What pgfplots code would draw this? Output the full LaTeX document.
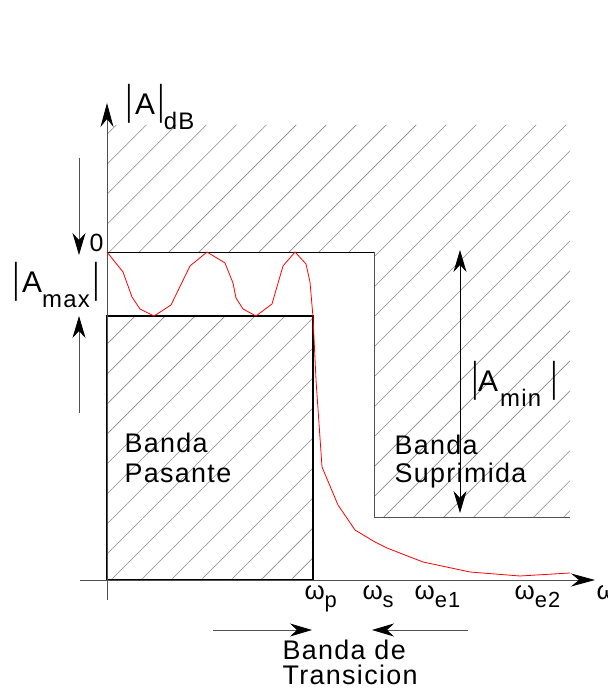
\documentclass[border=0pt]{standalone}
\usepackage{pgfplots}
\pgfplotsset{compat=1.18}
\usepackage{fontspec}
\setmainfont{Liberation Sans}[LetterSpace=5]
\usetikzlibrary{arrows.meta,patterns.meta}

\definecolor{hatch}{HTML}{8A8A8A}
\definecolor{axisgray}{HTML}{505050}
\definecolor{txt}{HTML}{383838}

% thin, tall magnitude bars and lowered subscripts
\newcommand{\vbar}{\scalebox{1}[1.9]{\fontsize{22}{22}\selectfont|}}
\newcommand{\sub}[1]{\raisebox{-15bp}{\fontsize{24}{24}\selectfont #1}}
\newcommand{\wsub}[1]{\raisebox{-8bp}{\fontsize{22}{22}\selectfont #1}}
\tikzset{head/.style={-{Stealth[black,length=22bp,width=13bp,inset=7bp]}}}

\begin{document}
\begin{tikzpicture}
\begin{axis}[
  x=1bp, y=1bp,
  xmin=-107, xmax=501, ymin=-111, ymax=580,
  hide axis, clip=false,
  every node/.style={text=txt, inner sep=0pt, outer sep=0pt},
]
% page frame
\path (axis cs:-107,-111) rectangle (axis cs:501,580);

% hatched stop region above 0 dB and above |Amin|
\addplot[draw=none, pattern={Lines[angle=45,distance=21.2bp,line width=0.6bp]}, pattern color=hatch]
  coordinates {(0,328) (0,455) (463,455) (463,63) (267,63) (267,328) (0,328)};

% hatched passband box
\addplot[draw=black, line width=1.6bp, line join=miter,
  pattern={Lines[angle=45,distance=21.2bp,line width=0.6bp]}, pattern color=hatch]
  coordinates {(0,0) (206,0) (206,264) (0,264) (0,0)};

% template boundary: 0 dB line, stopband edge, |Amin| level
\addplot[black, line width=0.8bp] coordinates {(0,328) (267,328)};
\addplot[axisgray, line width=0.8bp] coordinates {(267,328) (267,63) (463,63)};

% filter attenuation response
\addplot[red, line width=0.8bp] coordinates {
  (0,328) (16,308) (25,283) (33,271) (47,264) (64,275) (83,314) (100,328)
  (118,317) (126,297) (129,282) (136,271) (149,264) (165,276) (176,314)
  (188,328) (199,316) (203,298) (206,263) (209,200) (215,113) (231,75)
  (248,50) (268,38) (280,32) (316,18) (363,8) (413,4) (463,7)
};

% axes
\draw[axisgray, line width=0.8bp, -{Stealth[black,length=24bp,width=13bp,inset=8bp]}]
  (axis cs:0,-20) -- (axis cs:0,477);
\draw[axisgray, line width=0.8bp, -{Stealth[black,length=24bp,width=13bp,inset=8bp]}]
  (axis cs:-27,0) -- (axis cs:488,0);

% dimension arrows
\draw[axisgray, line width=0.8bp, head] (axis cs:-28,422) -- (axis cs:-28,325);
\draw[axisgray, line width=0.8bp, head] (axis cs:-28,167) -- (axis cs:-28,264);
\draw[black, line width=0.8bp, {Stealth[black,length=22bp,width=13bp,inset=7bp]}-{Stealth[black,length=22bp,width=13bp,inset=7bp]}]
  (axis cs:353,330) -- (axis cs:353,67);
\draw[axisgray, line width=0.8bp, head] (axis cs:106,-50) -- (axis cs:205,-50);
\draw[axisgray, line width=0.8bp, head] (axis cs:361,-50) -- (axis cs:265,-50);

% labels
\node[anchor=base west] at (axis cs:16,465) {\vbar\hspace{3bp}{\fontsize{30}{30}\selectfont A}\hspace{3bp}\vbar\sub{dB}};
\node[anchor=base west] at (axis cs:-21,328) {\fontsize{25}{25}\selectfont 0};
\node[anchor=base west] at (axis cs:-97,287) {\vbar\hspace{3bp}{\fontsize{30}{30}\selectfont A}\sub{max}\hspace{4bp}\vbar};
\node[anchor=base west] at (axis cs:362,188) {\vbar{\fontsize{30}{30}\selectfont A}\hspace{2bp}\sub{min}\hspace{10bp}\vbar};

\node[anchor=base west, font=\fontsize{27}{30}\selectfont] at (axis cs:14,127) {Banda};
\node[anchor=base west, font=\fontsize{27}{30}\selectfont] at (axis cs:14,97) {Pasante};
\node[anchor=base west, font=\fontsize{27}{30}\selectfont] at (axis cs:284,125) {Banda};
\node[anchor=base west, font=\fontsize{27}{30}\selectfont] at (axis cs:284,97) {Suprimida};
\node[anchor=base west, font=\fontsize{27}{30}\selectfont] at (axis cs:172,-80) {Banda de};
\node[anchor=base west, font=\fontsize{27}{30}\selectfont] at (axis cs:172,-105) {Transicion};

\node[anchor=base west, font=\fontsize{26}{26}\selectfont] at (axis cs:194,-20) {ω\wsub{p}};
\node[anchor=base west, font=\fontsize{26}{26}\selectfont] at (axis cs:252,-20) {ω\wsub{s}};
\node[anchor=base west, font=\fontsize{26}{26}\selectfont] at (axis cs:304,-20) {ω\wsub{e1}};
\node[anchor=base west, font=\fontsize{26}{26}\selectfont] at (axis cs:404,-20) {ω\wsub{e2}};
\node[anchor=base west, overlay, font=\fontsize{26}{26}\selectfont] at (axis cs:486,-20) {ω};
\end{axis}
\end{tikzpicture}
\end{document}
